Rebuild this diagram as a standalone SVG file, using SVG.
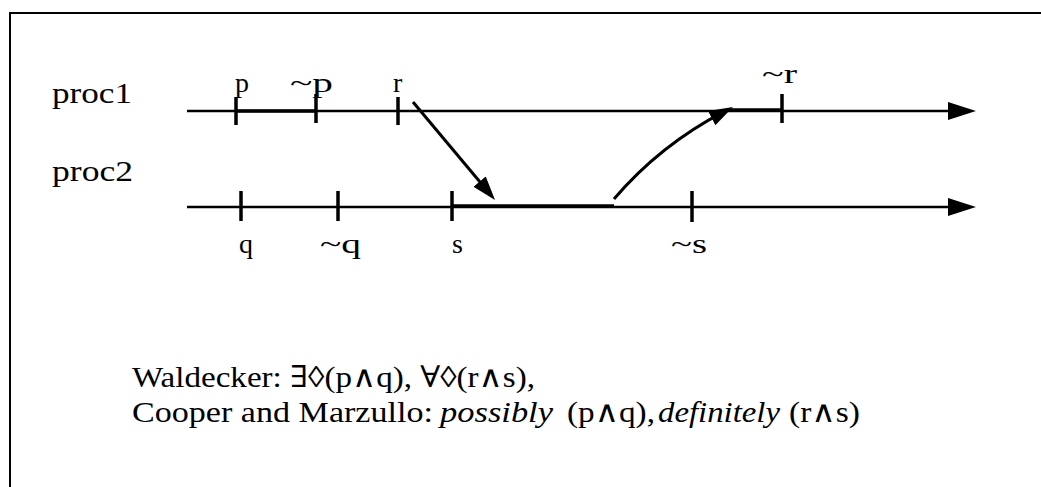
<svg xmlns="http://www.w3.org/2000/svg" width="1041" height="487" viewBox="0 0 1041 487">
<style>
.t{font-family:"Liberation Serif","DejaVu Serif",serif;font-size:28px;fill:#000}
.c{font-size:30px}
.i{font-style:italic}
.ln{stroke:#000;stroke-width:2.5;fill:none}
.thk{stroke:#000;stroke-width:3.6;fill:none}
.tick{stroke:#000;stroke-width:3.5}
.msg{stroke:#000;stroke-width:3;fill:none}
.frame{stroke:#000;stroke-width:2;fill:none}
</style>
<defs>
<marker id="ah" markerUnits="userSpaceOnUse" markerWidth="26" markerHeight="18" refX="14" refY="8" orient="auto">
<path d="M0,0 L24,8 L0,16 z" fill="#000"/>
</marker>
</defs>
<rect width="1041" height="487" fill="#fff"/>
<g id="frame">
<path class="frame" d="M10,487 L10,13 L1041,13"/>
</g>
<g id="proc1">
<text class="t c" x="52" y="103" textLength="80" lengthAdjust="spacingAndGlyphs">proc1</text>
<line class="ln" x1="187" y1="111" x2="952" y2="111"/>
<line class="thk" x1="236" y1="111" x2="316" y2="111"/>
<line class="thk" x1="728" y1="110" x2="782" y2="110"/>
<polygon points="948,102 976,111 948,120" fill="#000"/>
<line class="tick" x1="236" y1="97" x2="236" y2="125"/>
<line class="tick" x1="316" y1="94" x2="316" y2="123"/>
<line class="tick" x1="398" y1="97" x2="398" y2="125"/>
<line class="tick" x1="782" y1="94" x2="782" y2="123"/>
<text class="t" x="235" y="92">p</text>
<text class="t" x="290" y="92" textLength="43" lengthAdjust="spacingAndGlyphs">~p</text>
<text class="t" x="393" y="92">r</text>
<text class="t" x="762" y="83" textLength="35" lengthAdjust="spacingAndGlyphs">~r</text>
</g>
<g id="proc2">
<text class="t c" x="52" y="181" textLength="81" lengthAdjust="spacingAndGlyphs">proc2</text>
<line class="ln" x1="187" y1="207" x2="952" y2="207"/>
<line class="thk" x1="451" y1="206" x2="614" y2="206"/>
<polygon points="948,198 976,207 948,216" fill="#000"/>
<line class="tick" x1="241" y1="191" x2="241" y2="221"/>
<line class="tick" x1="338" y1="191" x2="338" y2="221"/>
<line class="tick" x1="452" y1="191" x2="452" y2="221"/>
<line class="tick" x1="692" y1="191" x2="692" y2="222"/>
<text class="t" x="239" y="253">q</text>
<text class="t" x="320" y="253" textLength="41" lengthAdjust="spacingAndGlyphs">~q</text>
<text class="t" x="452" y="253">s</text>
<text class="t" x="671" y="253" textLength="36" lengthAdjust="spacingAndGlyphs">~s</text>
</g>
<g id="connectors">
<path class="msg" d="M413,102 L488.6,192.3" marker-end="url(#ah)"/>
<path class="msg" d="M614,199 Q660,145 724.1,111.6" marker-end="url(#ah)"/>
</g>
<g id="caption">
<text class="t c" x="132" y="387" textLength="403" lengthAdjust="spacingAndGlyphs">Waldecker: ∃◊(p∧q), ∀◊(r∧s),</text>
<text class="t c" y="422"><tspan x="132" textLength="301" lengthAdjust="spacingAndGlyphs">Cooper and Marzullo:</tspan><tspan class="i" x="440" textLength="113" lengthAdjust="spacingAndGlyphs">possibly</tspan><tspan x="567" textLength="88" lengthAdjust="spacingAndGlyphs">(p∧q),</tspan><tspan class="i" x="658" textLength="122" lengthAdjust="spacingAndGlyphs">definitely</tspan><tspan x="789" textLength="71" lengthAdjust="spacingAndGlyphs">(r∧s)</tspan></text>
</g>
</svg>
